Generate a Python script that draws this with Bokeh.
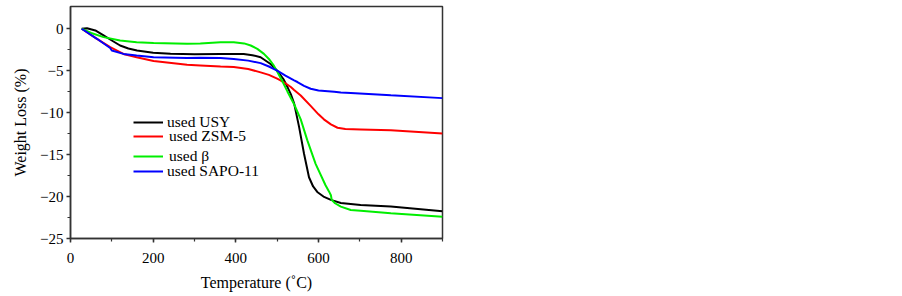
from bokeh.plotting import figure
from bokeh.models import Range1d, Legend, LegendItem, FixedTicker
from bokeh.embed import file_html
from bokeh.resources import INLINE

# ---- data ----
usy_t = [27, 40, 60, 80, 100, 120, 140, 161, 200, 242, 300, 363, 419, 440, 460, 484, 500,
         515, 525, 533, 541, 553, 565, 577, 587, 597, 612, 630, 654, 702, 775, 900]
usy_w = [0, 0.05, -0.2, -0.8, -1.4, -2.0, -2.35, -2.6, -2.85, -2.98, -3.05, -3.0, -3.0, -3.15,
         -3.4, -4.2, -5.0, -6.0, -6.95, -7.8, -8.9, -11.7, -14.9, -17.7, -18.8, -19.45, -20.0,
         -20.4, -20.76, -21.0, -21.2, -21.75]

zsm_t = [27, 64, 96, 128, 160, 201, 282, 314, 363, 395, 430, 460, 480, 500, 508, 520, 533,
         541, 557, 581, 600, 613, 630, 646, 665, 702, 775, 900]
zsm_w = [0, -1.2, -2.2, -3.0, -3.4, -3.85, -4.3, -4.37, -4.5, -4.57, -4.8, -5.2, -5.5, -5.95,
         -6.15, -6.5, -6.95, -7.3, -7.95, -9.2, -10.2, -10.8, -11.4, -11.8, -11.95, -12.0, -12.1,
         -12.5]

beta_t = [27, 50, 80, 120, 160, 201, 282, 314, 363, 395, 420, 436, 452, 468, 480, 492, 500,
          512, 525, 541, 557, 573, 593, 617, 626, 630, 632, 640, 654, 678, 702, 775, 900]
beta_w = [0, -0.5, -1.0, -1.4, -1.6, -1.7, -1.8, -1.75, -1.6, -1.6, -1.75, -2.0, -2.4, -3.0,
          -3.6, -4.4, -5.1, -6.2, -7.5, -9.0, -10.8, -13.3, -16.1, -18.65, -19.45, -19.85,
          -20.4, -20.8, -21.2, -21.6, -21.7, -22.0, -22.4]

sapo_t = [27, 64, 96, 100, 128, 160, 201, 282, 314, 363, 395, 430, 460, 480, 500, 520, 541,
          549, 565, 581, 600, 638, 654, 678, 775, 900]
sapo_w = [0, -1.2, -2.3, -2.6, -3.0, -3.2, -3.4, -3.5, -3.45, -3.5, -3.6, -3.8, -4.1, -4.5,
          -5.0, -5.6, -6.15, -6.35, -6.8, -7.15, -7.35, -7.5, -7.6, -7.66, -7.94, -8.27]

series_names = ["used USY", "used ZSM-5", "used \u03b2", "used SAPO-11"]
series_colors = ["#000000", "#ff0000", "#00ee00", "#0000ff"]
x_ticks = [0, 200, 400, 600, 800]
y_ticks = [-25, -20, -15, -10, -5, 0]

FONT = "Liberation Serif"

p = figure(width=886, height=294, output_backend="svg", toolbar_location=None,
           x_range=Range1d(0, 900), y_range=Range1d(-25, 2.65),
           min_border_left=70, min_border_right=444, min_border_top=6, min_border_bottom=56)
p.grid.visible = False
p.background_fill_color = "white"
p.border_fill_color = "white"
p.outline_line_color = "#333333"
p.outline_line_width = 1.5

renderers = []
for t, w, c in zip([usy_t, zsm_t, beta_t, sapo_t], [usy_w, zsm_w, beta_w, sapo_w], series_colors):
    renderers.append(p.line(t, w, line_color=c, line_width=2))

for ax in (p.xaxis[0], p.yaxis[0]):
    ax.axis_line_color = "#333333"
    ax.axis_line_width = 1.5
    ax.major_tick_line_color = "#333333"
    ax.minor_tick_line_color = "#333333"
    ax.major_tick_line_width = 1.5
    ax.minor_tick_line_width = 1.2
    ax.major_tick_in = 0
    ax.major_tick_out = 4
    ax.minor_tick_in = 0
    ax.minor_tick_out = 3
    ax.major_label_text_font = FONT
    ax.major_label_text_font_size = "15px"
    ax.major_label_text_color = "black"
    ax.axis_label_text_font = FONT
    ax.axis_label_text_font_size = "16px"
    ax.axis_label_text_font_style = "normal"
    ax.axis_label_text_color = "black"

p.xaxis.ticker = FixedTicker(ticks=x_ticks, minor_ticks=list(range(0, 901, 100)))
p.yaxis.ticker = FixedTicker(ticks=y_ticks, minor_ticks=[-25 + 2.5 * i for i in range(11)])
p.xaxis.axis_label = "Temperature (\u02daC)"
p.yaxis.axis_label = "Weight Loss (%)"
p.xaxis.major_label_standoff = 10
p.yaxis.major_label_standoff = 3
p.xaxis.axis_label_standoff = 8
p.yaxis.axis_label_standoff = 8

# one legend box per entry, so the uneven row spacing of the original can be kept
legend_y = [107, 93, 73, 58]
legend_standoff = [4, 6, 6, 4]
for n, r, ly, so in zip(series_names, renderers, legend_y, legend_standoff):
    lg = Legend(items=[LegendItem(label=n, renderers=[r])],
                location=(63, ly), padding=0, margin=0, spacing=0,
                glyph_width=30, glyph_height=18, label_height=18, label_standoff=so,
                label_text_font=FONT, label_text_font_size="15.5px", label_text_color="black",
                label_text_line_height=1.0,
                border_line_color=None, background_fill_alpha=0)
    p.add_layout(lg)

open("out.html", "w").write(file_html(p, INLINE))
